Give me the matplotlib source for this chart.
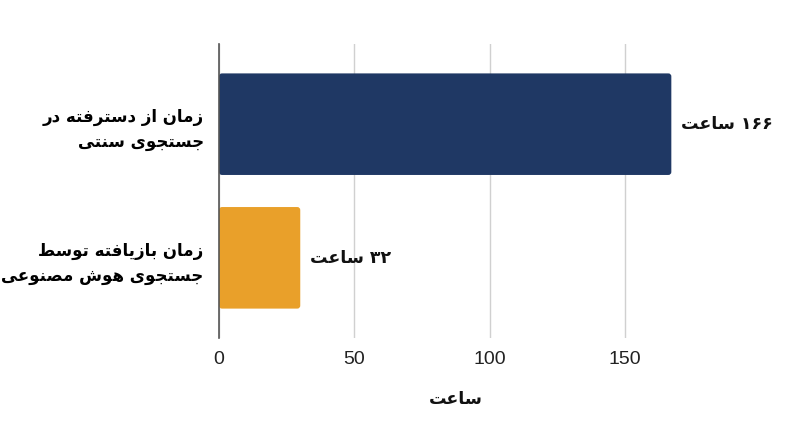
import matplotlib
matplotlib.use("Agg")
import matplotlib.pyplot as plt
from matplotlib.patches import FancyBboxPatch

# ---- data ----
categories = ["زمان بازیافته توسط\nجستجوی هوش مصنوعی", "زمان از دسترفته در\nجستجوی سنتی"]
values = [30, 167]
value_labels = ["۳۲ ساعت", "۱۶۶ ساعت"]
colors = ["#E9A02A", "#1F3864"]
x_ticks = [0, 50, 100, 150]
x_label = "ساعت"

# ---- simple Persian shaping (presentation forms + visual order) ----
FORMS = {  # iso, fin, init, med
    "ا": ("\uFE8D", "\uFE8E", None, None),
    "ب": ("\uFE8F", "\uFE90", "\uFE91", "\uFE92"),
    "ت": ("\uFE95", "\uFE96", "\uFE97", "\uFE98"),
    "ج": ("\uFE9D", "\uFE9E", "\uFE9F", "\uFEA0"),
    "د": ("\uFEA9", "\uFEAA", None, None),
    "ر": ("\uFEAD", "\uFEAE", None, None),
    "ز": ("\uFEAF", "\uFEB0", None, None),
    "س": ("\uFEB1", "\uFEB2", "\uFEB3", "\uFEB4"),
    "ش": ("\uFEB5", "\uFEB6", "\uFEB7", "\uFEB8"),
    "ص": ("\uFEB9", "\uFEBA", "\uFEBB", "\uFEBC"),
    "ط": ("\uFEC1", "\uFEC2", "\uFEC3", "\uFEC4"),
    "ع": ("\uFEC9", "\uFECA", "\uFECB", "\uFECC"),
    "ف": ("\uFED1", "\uFED2", "\uFED3", "\uFED4"),
    "م": ("\uFEE1", "\uFEE2", "\uFEE3", "\uFEE4"),
    "ن": ("\uFEE5", "\uFEE6", "\uFEE7", "\uFEE8"),
    "ه": ("\uFEE9", "\uFEEA", "\uFEEB", "\uFEEC"),
    "و": ("\uFEED", "\uFEEE", None, None),
    "ی": ("\uFBFC", "\uFBFD", "\uFBFE", "\uFBFF"),
}


def dual(c):
    return c in FORMS and FORMS[c][2] is not None


def shape_line(s):
    out = []
    for i, c in enumerate(s):
        if c not in FORMS:
            out.append(c)
            continue
        prev = s[i - 1] if i > 0 else ""
        nxt = s[i + 1] if i + 1 < len(s) else ""
        jp = dual(prev)
        jn = dual(c) and nxt in FORMS
        iso, fin, ini, med = FORMS[c]
        if jp and jn:
            out.append(med)
        elif jp:
            out.append(fin)
        elif jn:
            out.append(ini)
        else:
            out.append(iso)
    runs = []
    for c in out:
        if c.isdigit() and runs and runs[-1][0].isdigit():
            runs[-1] += c
        else:
            runs.append(c)
    return "".join(reversed(runs))


def fa(s):
    return "\n".join(shape_line(l) for l in s.split("\n"))


FA_FONT = ["DejaVu Sans"]

fig = plt.figure(figsize=(8.0, 4.47), dpi=100)
ax = fig.add_axes([219 / 800, 109 / 447, 474 / 800, 294 / 447])

ax.set_xlim(0, 175)
ax.set_ylim(-0.6, 1.6)

ypos = list(range(len(categories)))
bars = ax.barh(ypos, values, height=0.76, color=colors, zorder=3)

# rounded corners (about 3 px)
fig.canvas.draw()
px_x = ax.transData.transform((1, 0))[0] - ax.transData.transform((0, 0))[0]
px_y = ax.transData.transform((0, 1))[1] - ax.transData.transform((0, 0))[1]
for b in bars:
    b.set_visible(False)
    p = FancyBboxPatch((b.get_x(), b.get_y()), b.get_width(), b.get_height(),
                       boxstyle="round,pad=0,rounding_size=%f" % (3 / px_x),
                       mutation_aspect=px_x / px_y,
                       facecolor=b.get_facecolor(), edgecolor="none", zorder=3)
    ax.add_patch(p)

ax.set_xticks(x_ticks)
ax.set_xticklabels([str(t) for t in x_ticks], fontsize=14,
                   family=["Liberation Sans", "DejaVu Sans"], color="#222222")
ax.tick_params(axis="x", length=0, pad=9)
ax.set_yticks(ypos)
ax.set_yticklabels([fa(c) for c in categories], fontsize=12, fontweight="bold",
                   family=FA_FONT, ha="right", linespacing=1.5)
ax.tick_params(axis="y", length=0, pad=11)
ax.grid(axis="x", color="#d0d0d0", linewidth=1, zorder=0)
ax.grid(axis="y", visible=False)
for s in ["top", "right", "bottom"]:
    ax.spines[s].set_visible(False)
ax.spines["left"].set_color("#555555")
ax.spines["left"].set_linewidth(1.2)
ax.spines["left"].set_zorder(4)

for b, lab in zip(bars, value_labels):
    ax.annotate(fa(lab), xy=(b.get_width(), b.get_y() + b.get_height() / 2),
                xytext=(7, 0), textcoords="offset points", ha="left", va="center",
                fontsize=12.5, fontweight="bold", family=FA_FONT, color="#111111")

ax.set_xlabel(fa(x_label), fontsize=12.5, fontweight="bold", family=FA_FONT,
              labelpad=16, color="#111111")

fig.savefig("out.png", dpi=100, facecolor="white")
